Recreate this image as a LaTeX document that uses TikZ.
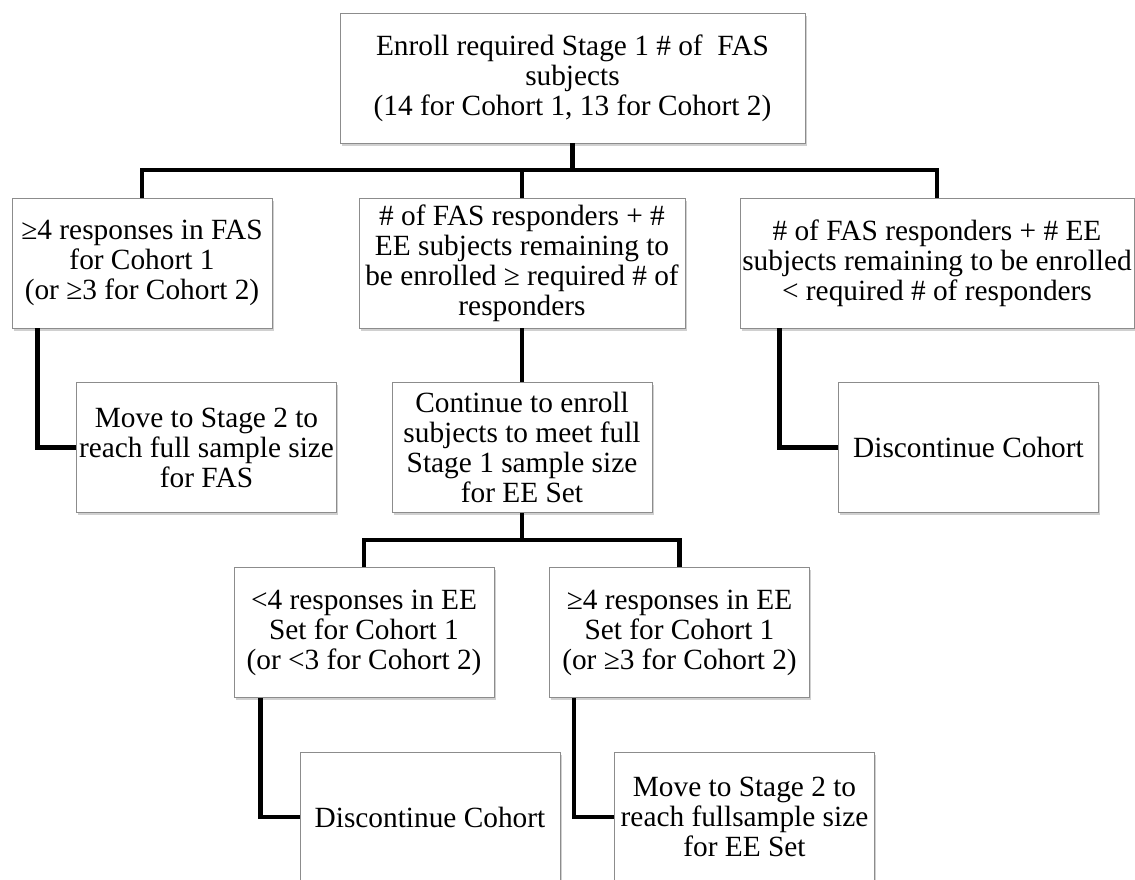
\documentclass[tikz,border=0pt]{standalone}
\usepackage{fontspec}
\setmainfont{Liberation Serif}
\usetikzlibrary{shadows}

\begin{document}
\begin{tikzpicture}[x=0.75pt,y=-0.75pt,
    box/.style={draw=black!45,line width=0.6pt,fill=white,align=center,inner sep=0pt,
      minimum width=195pt,minimum height=97.5pt,font=\fontsize{22}{22.5}\selectfont,
      drop shadow={shadow xshift=1.2pt,shadow yshift=-2pt,opacity=0.3,fill=black!60}},
    link/.style={line width=3.4pt}]
    \fill[white] (0,0) rectangle (1135,880);
    \useasboundingbox (0,0) rectangle (1135,880);
    % stage 1 decision
    \node[box,minimum width=348.75pt] (enroll) at (572.5,78) {Enroll required Stage 1 \# of~ FAS\\subjects\\(14 for Cohort 1, 13 for Cohort 2)};
    \node[box] (fasyes) at (142,263) {≥4 responses in FAS\\for Cohort 1\\(or ≥3 for Cohort 2)};
    \node[box,minimum width=244.5pt] (eecont) at (522,263) {\# of FAS responders + \#\\EE subjects remaining to\\be enrolled ≥ required \# of\\responders};
    \node[box,minimum width=295.5pt] (stop1) at (937,263) {\# of FAS responders + \# EE\\subjects remaining to be enrolled\\< required \# of responders};
    \node[box] (fasmove) at (206.5,447.5) {Move to Stage 2 to\\reach full sample size\\for FAS};
    \node[box] (eeset) at (522,447.5) {Continue to enroll\\subjects to meet full\\Stage 1 sample size\\for EE Set};
    \node[box] (discont1) at (968.5,447.5) {Discontinue Cohort};
    % EE set decision
    \node[box] (eeno) at (364,632.5) {<4 responses in EE\\Set for Cohort 1\\(or <3 for Cohort 2)};
    \node[box] (eeyes) at (679.5,632.5) {≥4 responses in EE\\Set for Cohort 1\\(or ≥3 for Cohort 2)};
    \node[box] (discont2) at (430,817) {Discontinue Cohort};
    \node[box] (eemove) at (744.5,817) {Move to Stage 2 to\\reach fullsample size\\for EE Set};

    \coordinate (bar1) at (572.5,170);
    \coordinate (bar2) at (522,540);
    \draw[link] (enroll.south) -- (bar1);
    \draw[link] (fasyes.north) |- (bar1) -| (stop1.north);
    \draw[link] (eecont.north) -- (eecont.north |- bar1);
    \draw[link] ([xshift=19.5pt]fasyes.south west) |- (fasmove.west);
    \draw[link] ([xshift=30pt]stop1.south west) |- (discont1.west);
    \draw[link] (eecont.south) -- (eeset.north);
    \draw[link] (eeset.south) -- (bar2);
    \draw[link] (eeno.north) |- (bar2) -| (eeyes.north);
    \draw[link] ([xshift=20.25pt]eeno.south west) |- (discont2.west);
    \draw[link] ([xshift=18.75pt]eeyes.south west) |- (eemove.west);
\end{tikzpicture}
\end{document}
